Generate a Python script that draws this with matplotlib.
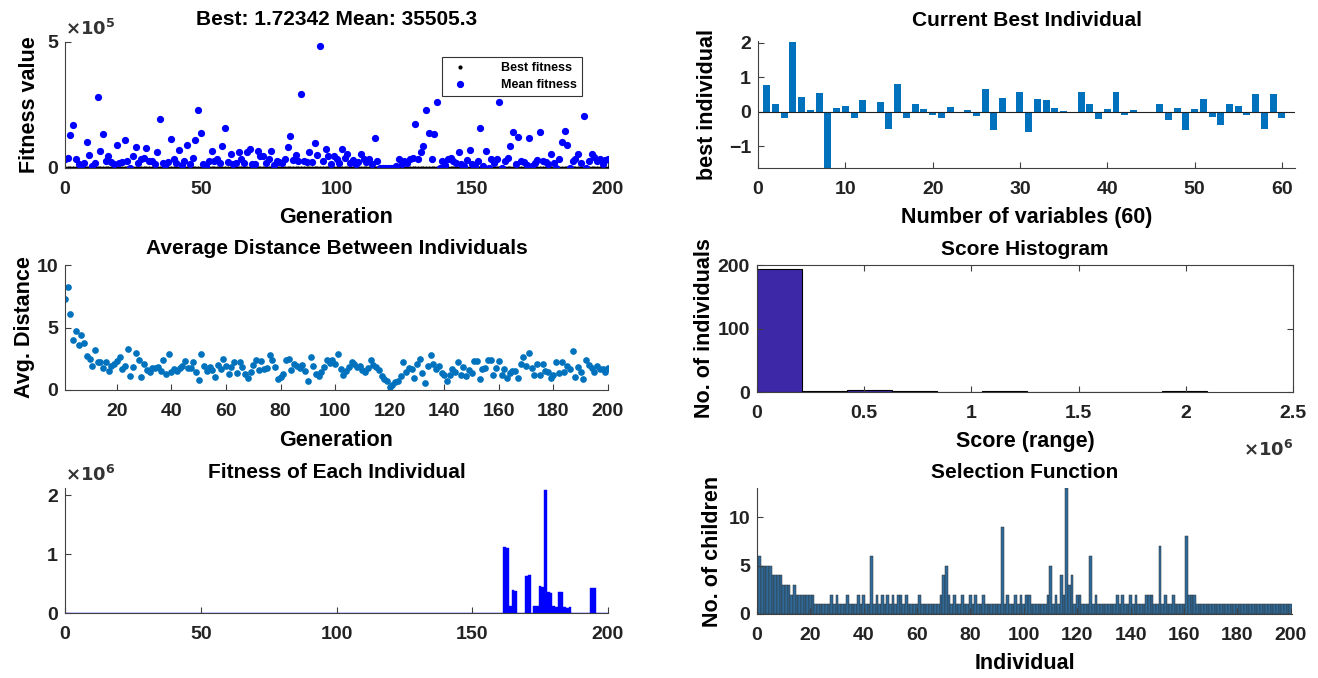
import numpy as np
import matplotlib
matplotlib.use('Agg')
import matplotlib.pyplot as plt

plt.rcParams['font.family'] = ['Liberation Sans', 'DejaVu Sans']
plt.rcParams['font.weight'] = 'bold'
plt.rcParams['axes.labelweight'] = 'bold'
plt.rcParams['axes.titleweight'] = 'bold'

# ---------------- dados ----------------
# media da aptidao por geracao (0..200), unidade 1e5
mean_fitness_e5 = [
    0.37, 0.41, 1.30, 1.71, 0.34, 0.14, 0.07, 0.20, 1.05, 0.53,
    0.07, 0.18, 2.81, 0.68, 1.34, 0.27, 0.48, 0.23, 0.15, 0.90,
    0.21, 0.23, 1.10, 0.27, 0.00, 0.48, 0.82, 0.20, 0.34, 0.41,
    0.78, 0.27, 0.27, 0.15, 0.62, 1.96, 0.21, 0.10, 0.23, 1.14,
    0.34, 0.20, 0.73, 0.10, 0.27, 0.92, 0.14, 0.41, 1.10, 2.32,
    1.37, 0.14, 0.07, 0.27, 0.67, 0.27, 0.34, 0.20, 0.86, 1.58,
    0.23, 0.55, 0.15, 0.21, 0.62, 0.37, 0.20, 0.64, 0.75, 0.14,
    0.14, 0.67, 0.48, 0.48, 0.20, 0.37, 0.67, 0.12, 0.27, 0.25,
    0.18, 0.34, 0.85, 1.26, 0.30, 0.51, 0.27, 2.95, 0.27, 0.23,
    0.62, 0.23, 1.00, 0.51, 4.86, 0.27, 0.75, 0.48, 0.14, 0.48,
    0.34, 0.20, 0.75, 0.41, 0.55, 0.21, 0.30, 0.14, 0.25, 0.55,
    0.37, 0.23, 0.34, 0.15, 1.19, 0.27, 0.00, 0.00, 0.00, 0.00,
    0.00, 0.00, 0.07, 0.37, 0.15, 0.27, 0.20, 0.34, 0.41, 1.74,
    0.34, 0.64, 0.86, 2.30, 1.37, 0.34, 1.33, 2.60, 0.00, 0.27,
    0.10, 0.37, 0.41, 0.27, 0.20, 0.62, 0.14, 0.07, 0.30, 0.73,
    0.14, 0.07, 0.27, 1.58, 0.07, 0.68, 0.00, 0.34, 0.20, 0.34,
    2.60, 0.00, 0.27, 0.41, 0.89, 1.44, 0.15, 1.23, 0.27, 0.23,
    0.10, 1.19, 0.07, 0.21, 0.30, 1.41, 0.27, 0.23, 0.14, 0.55,
    0.20, 0.00, 0.37, 1.03, 1.47, 0.92, 0.00, 0.27, 0.37, 0.55,
    0.20, 2.05, 0.00, 0.27, 0.55, 0.45, 0.27, 0.34, 0.14, 0.30,
    0.355,
]
# melhor aptidao: trechos (valor, numero de geracoes)
best_fitness_runs = [(850.0, 3), (412.6, 5), (120.3, 8), (57.9, 10), (22.4, 15),
                     (9.81, 20), (4.35, 30), (2.96, 40), (1.72342, 70)]

# distancia media entre individuos (geracoes 1..200)
avg_distance = [
    7.31, 8.27, 6.06, 4.02, 4.73, 3.62, 4.41, 3.80, 2.74, 2.47,
    1.94, 3.19, 2.21, 2.21, 1.76, 2.21, 1.54, 1.94, 2.10, 2.34,
    2.66, 1.68, 1.94, 3.27, 1.14, 1.81, 2.93, 2.39, 1.01, 2.07,
    1.60, 1.41, 1.76, 1.76, 1.81, 1.55, 2.39, 1.28, 2.87, 1.41,
    1.70, 1.54, 1.76, 1.94, 2.34, 1.76, 1.76, 2.21, 1.41, 0.80,
    2.87, 1.94, 1.49, 1.81, 1.60, 1.06, 2.02, 1.65, 2.47, 1.94,
    1.28, 1.81, 2.21, 1.33, 2.21, 1.81, 1.28, 0.96, 1.45, 2.02,
    2.39, 1.60, 2.29, 1.68, 1.76, 2.82, 2.39, 1.85, 0.88, 1.01,
    1.28, 2.39, 2.47, 1.60, 2.07, 1.94, 1.76, 2.02, 1.50, 0.74,
    2.61, 1.94, 1.28, 1.14, 1.41, 1.81, 2.39, 2.20, 2.39, 2.07,
    2.85, 1.68, 1.22, 1.55, 1.86, 2.21, 2.07, 1.81, 1.90, 1.60,
    1.41, 1.76, 2.39, 2.02, 1.85, 1.60, 1.14, 0.88, 0.69, 0.21,
    0.43, 0.61, 0.69, 1.10, 2.21, 1.41, 1.75, 1.68, 0.96, 2.07,
    2.47, 1.33, 0.53, 1.94, 2.82, 2.05, 1.68, 1.94, 1.33, 1.22,
    0.74, 1.22, 1.68, 1.45, 2.21, 1.22, 1.86, 1.14, 1.60, 1.33,
    2.29, 2.34, 0.88, 1.70, 1.76, 2.39, 2.39, 1.22, 1.80, 2.34,
    1.22, 1.68, 0.96, 1.40, 1.54, 1.54, 0.96, 2.07, 2.61, 1.94,
    2.93, 1.75, 1.22, 2.07, 1.22, 2.07, 1.55, 1.41, 0.96, 1.20,
    2.21, 1.33, 2.21, 1.41, 1.94, 1.65, 3.14, 1.01, 1.81, 1.45,
    0.88, 2.39, 2.02, 1.75, 1.41, 1.94, 1.68, 1.68, 1.41, 1.76,
]

# aptidao de cada individuo (1..200): so os nao nulos, unidade 1e6
individual_fitness_e6 = {
    162: 1.12, 163: 1.10, 164: 0.12, 165: 0.39, 166: 0.38, 170: 0.62,
    171: 0.64, 173: 0.12, 174: 0.12, 175: 0.45, 176: 0.44, 177: 2.08,
    178: 0.35, 179: 0.34, 180: 0.12, 181: 0.10, 182: 0.36, 183: 0.35,
    184: 0.10, 185: 0.08, 186: 0.10, 194: 0.43, 195: 0.42,
}

# melhor individuo atual (60 variaveis)
best_individual = [
    0.77, 0.23, -0.17, 2.02, 0.43, 0.05, 0.54, -1.70, 0.12, 0.16,
    -0.17, 0.35, 0.00, 0.27, -0.51, 0.81, -0.17, 0.23, 0.09, -0.10,
    -0.17, 0.15, 0.00, 0.05, -0.13, 0.65, -0.54, 0.39, -0.03, 0.57,
    -0.60, 0.38, 0.34, 0.12, 0.02, 0.00, 0.57, 0.23, -0.22, 0.09,
    0.57, -0.08, 0.05, 0.00, -0.04, 0.23, -0.25, 0.12, -0.54, 0.07,
    0.38, -0.15, -0.37, 0.23, 0.16, -0.10, 0.50, -0.51, 0.50, -0.17,
]

# histograma das pontuacoes (10 classes)
score_max = 2.1e6
score_counts = [193, 1, 3, 1, 0, 1, 0, 0, 0, 1]

# numero de filhos por individuo (1..200)
children = [
    6, 5, 5, 5, 5, 4, 4, 4, 4, 3, 3, 3, 2, 3, 2, 2, 2, 2, 2, 2,
    2, 1, 1, 1, 1, 1, 1, 2, 1, 2, 1, 1, 1, 2, 1, 1, 1, 2, 1, 2,
    1, 1, 6, 1, 2, 1, 2, 1, 2, 1, 2, 1, 2, 2, 1, 2, 1, 1, 1, 1,
    2, 1, 1, 1, 1, 1, 1, 1, 2, 4, 5, 2, 1, 2, 1, 1, 2, 1, 1, 2,
    1, 2, 1, 1, 2, 1, 1, 1, 1, 1, 1, 9, 1, 2, 1, 1, 2, 1, 2, 1,
    2, 2, 1, 1, 1, 1, 1, 1, 2, 5, 1, 2, 1, 4, 2, 13, 3, 4, 1, 2,
    2, 1, 1, 1, 6, 1, 2, 1, 1, 1, 1, 1, 1, 1, 2, 1, 2, 1, 1, 2,
    1, 2, 1, 1, 1, 2, 2, 2, 1, 1, 7, 1, 2, 1, 1, 2, 1, 1, 1, 1,
    8, 2, 2, 2, 1, 1, 1, 1, 1, 1, 1, 1, 1, 1, 1, 1, 1, 1, 1, 1,
    1, 1, 1, 1, 1, 1, 1, 1, 1, 1, 1, 1, 1, 1, 1, 1, 1, 1, 1, 1,
]

# ---------------- preparacao ----------------
generations = np.arange(len(mean_fitness_e5))
mean_fitness = np.array(mean_fitness_e5) * 1e5
best_fitness = np.repeat([v for v, n in best_fitness_runs], [n for v, n in best_fitness_runs])

dist_gen = np.arange(1, len(avg_distance) + 1)

individuals = np.arange(1, 201)
ind_fitness = np.zeros(200)
for k, v in individual_fitness_e6.items():
    ind_fitness[k - 1] = v * 1e6

variables = np.arange(1, len(best_individual) + 1)
bin_edges = np.linspace(0, score_max, len(score_counts) + 1)

W, H = 1318, 678
fig = plt.figure(figsize=(W / 100, H / 100), dpi=100)

TICK = 14
LAB = 15.5
TIT = 15
spine_c = '#404040'


def estilo(ax, box=False):
    for s in ['top', 'right']:
        ax.spines[s].set_visible(box)
    for s in ax.spines.values():
        s.set_color(spine_c)
        s.set_linewidth(0.8)
    ax.tick_params(direction='in', length=4, width=0.8, colors=spine_c,
                   labelcolor='#222222', labelsize=TICK, top=box, right=box)
    ax.tick_params(axis='x', pad=9.5)
    ax.tick_params(axis='y', pad=5)


def expoente(ax, txt):
    ax.annotate(txt, xy=(0, 1), xycoords='axes fraction', xytext=(0, 2),
                textcoords='offset points', fontsize=13, color='#333333',
                ha='left', va='bottom')


# 1) melhor e media da aptidao
ax1 = fig.add_axes([65 / W, 1 - 168 / H, 543 / W, 126 / H])
ax1.plot(generations, best_fitness, '.', color='k', ms=4, label='Best fitness')
ax1.plot(generations, mean_fitness, 'o', color='b', ms=4.2, mec='b', label='Mean fitness')
ax1.set_xlim(0, 200)
ax1.set_ylim(0, 5e5)
ax1.set_xticks([0, 50, 100, 150, 200])
ax1.set_yticks([0, 5e5])
ax1.set_yticklabels(['0', '5'])
ax1.set_xlabel('Generation', fontsize=LAB, labelpad=6.5)
ax1.set_ylabel('Fitness value', fontsize=LAB, labelpad=5)
ax1.set_title('Best: 1.72342 Mean: 35505.3', fontsize=TIT, pad=12)
expoente(ax1, r'$\times10^{5}$')
leg = ax1.legend(loc='upper right', bbox_to_anchor=(0.963, 0.93), fontsize=9,
                 frameon=True, fancybox=False, borderpad=0.4, handletextpad=2.3,
                 labelspacing=0.4, markerscale=1.0)
leg.get_frame().set_edgecolor('k')
leg.get_frame().set_linewidth(0.8)
estilo(ax1)

# 2) distancia media entre individuos
ax2 = fig.add_axes([65 / W, 1 - 390 / H, 543 / W, 125 / H])
ax2.plot(dist_gen, avg_distance, 'o', color='#0072BD', ms=3.8, mec='#0072BD')
ax2.set_xlim(1, 200)
ax2.set_ylim(0, 10)
ax2.set_xticks(np.arange(20, 201, 20))
ax2.set_yticks([0, 5, 10])
ax2.set_xlabel('Generation', fontsize=LAB, labelpad=7)
ax2.set_ylabel('Avg. Distance', fontsize=LAB, labelpad=1)
ax2.set_title('Average Distance Between Individuals', fontsize=TIT, pad=8)
estilo(ax2)

# 3) aptidao de cada individuo
ax3 = fig.add_axes([65 / W, 1 - 613 / H, 543 / W, 125 / H])
ax3.bar(individuals, ind_fitness, width=1.0, color='b', edgecolor='b', linewidth=0.3)
ax3.set_xlim(0, 200)
ax3.set_ylim(0, 2.12e6)
ax3.set_xticks([0, 50, 100, 150, 200])
ax3.set_yticks([0, 1e6, 2e6])
ax3.set_yticklabels(['0', '1', '2'])
ax3.set_title('Fitness of Each Individual', fontsize=TIT, pad=7.5)
expoente(ax3, r'$\times10^{6}$')
estilo(ax3)

# 4) melhor individuo atual
ax4 = fig.add_axes([758 / W, 1 - 168 / H, 537 / W, 127 / H])
ax4.bar(variables, best_individual, width=0.8, color='#0072BD')
ax4.axhline(0, color='#222222', lw=0.8)
ax4.set_xlim(0, 61.5)
ax4.set_ylim(-1.63, 2.05)
ax4.set_xticks(np.arange(0, 61, 10))
ax4.set_yticks([-1, 0, 1, 2])
ax4.set_xlabel('Number of variables (60)', fontsize=LAB, labelpad=6.5)
ax4.set_ylabel('best individual', fontsize=LAB, labelpad=8)
ax4.set_title('Current Best Individual', fontsize=TIT, pad=11)
estilo(ax4)

# 5) histograma das pontuacoes
ax5 = fig.add_axes([757 / W, 1 - 392 / H, 536 / W, 127 / H])
ax5.bar(bin_edges[:-1], score_counts, width=np.diff(bin_edges), align='edge',
        color='#3D28A8', edgecolor='k', linewidth=0.8)
ax5.set_xlim(0, 2.5e6)
ax5.set_ylim(0, 200)
ax5.set_xticks([0, 0.5e6, 1e6, 1.5e6, 2e6, 2.5e6])
ax5.set_xticklabels(['0', '0.5', '1', '1.5', '2', '2.5'])
ax5.set_yticks([0, 100, 200])
ax5.set_xlabel('Score (range)', fontsize=LAB, labelpad=6)
ax5.set_ylabel('No. of individuals', fontsize=LAB, labelpad=2)
ax5.set_title('Score Histogram', fontsize=TIT, pad=7)
ax5.text(1.0, -0.38, r'$\times10^{6}$', transform=ax5.transAxes, fontsize=13,
         color='#333333', ha='right', va='top')
estilo(ax5, box=True)

# 6) funcao de selecao
ax6 = fig.add_axes([757 / W, 1 - 614 / H, 535 / W, 126 / H])
ax6.bar(individuals, children, width=1.0, color='#2F6A99', edgecolor='#333333',
        linewidth=0.35)
ax6.set_xlim(0, 200.5)
ax6.set_ylim(0, 13)
ax6.set_xticks(np.arange(0, 201, 20))
ax6.set_yticks([0, 5, 10])
ax6.set_xlabel('Individual', fontsize=LAB, labelpad=6.5)
ax6.set_ylabel('No. of children', fontsize=LAB, labelpad=4)
ax6.set_title('Selection Function', fontsize=TIT, pad=7.5)
estilo(ax6)

plt.savefig('out.png', dpi=100)
